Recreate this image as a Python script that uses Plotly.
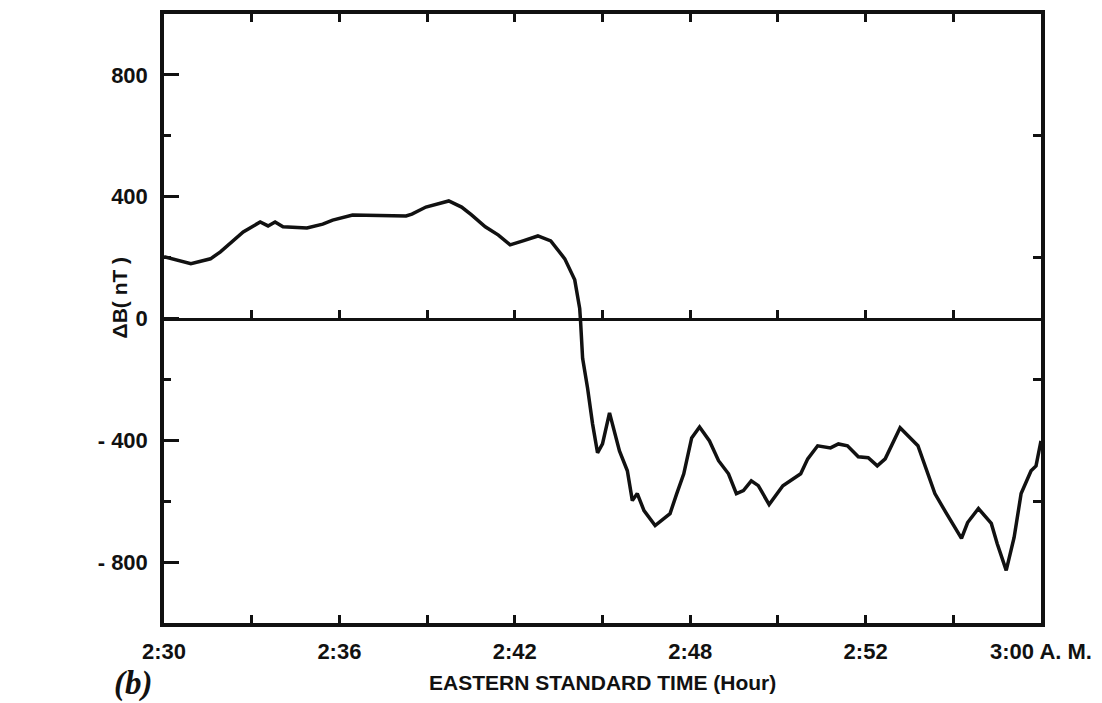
import plotly.graph_objects as go

# minutes after 2:30 EST
minutes = [0.00, 0.92, 1.59, 1.93, 2.71, 3.29, 3.56, 3.80, 4.07, 4.89, 5.43, 5.77,
           6.45, 8.28, 8.48, 8.96, 9.74, 10.18, 10.52, 10.99, 11.44, 11.84, 12.28,
           12.79, 13.23, 13.71, 14.05, 14.22, 14.25, 14.32, 14.49, 14.66, 14.83,
           15.00, 15.24, 15.58, 15.85, 16.02, 16.19, 16.42, 16.80, 17.31, 17.54,
           17.78, 18.05, 18.32, 18.66, 18.97, 19.31, 19.58, 19.82, 20.09, 20.33,
           20.70, 21.17, 21.78, 22.02, 22.36, 22.80, 23.07, 23.38, 23.75, 24.09,
           24.40, 24.67, 25.18, 25.79, 26.37, 26.77, 27.28, 27.49, 27.86, 28.30,
           28.50, 28.81, 29.08, 29.32, 29.66, 29.83, 30.00]
delta_b = [203, 180, 196, 219, 284, 317, 304, 317, 301, 297, 310, 323,
           340, 337, 343, 366, 386, 366, 340, 301, 274, 242, 255,
           271, 255, 196, 127, 33, -10, -131, -229, -346, -441,
           -412, -310, -435, -500, -598, -575, -631, -680, -641, -575,
           -510, -392, -356, -402, -467, -510, -575, -565, -533, -549,
           -611, -549, -510, -461, -418, -425, -412, -418, -454, -457,
           -484, -461, -359, -418, -575, -641, -722, -670, -624, -673,
           -739, -827, -719, -575, -500, -484, -402]

x_ticks = [0, 3, 6, 9, 12, 15, 18, 21, 24, 27, 30]
x_labels = ["2:30", "", "2:36", "", "2:42", "", "2:48", "", "2:52", "", "3:00 A. M."]
y_ticks = [-800, -400, 0, 400, 800]
y_labels = ["- 800", "- 400", "0", "400", "800"]
y_minor = [-600, -200, 200, 600]

INK = "#111111"
FONT = dict(family="Liberation Sans, Arial, sans-serif", size=22, color=INK, weight="bold")

fig = go.Figure()
fig.add_trace(go.Scatter(
    x=minutes, y=delta_b, mode="lines",
    line=dict(color=INK, width=3.5),
    showlegend=False, hoverinfo="x+y"
))
# same series on the overlay axes so the zero line and right ticks get drawn
fig.add_trace(go.Scatter(
    x=minutes, y=delta_b, mode="lines", xaxis="x2", yaxis="y2",
    line=dict(color=INK, width=0), opacity=0,
    showlegend=False, hoverinfo="skip"
))

fig.update_layout(
    width=1102, height=703,
    margin=dict(l=164, r=55, t=10, b=80),
    plot_bgcolor="white", paper_bgcolor="white",
    font=FONT,
    xaxis=dict(
        range=[0, 30], tickmode="array", tickvals=x_ticks, ticktext=x_labels,
        ticks="inside", ticklen=8, tickwidth=2.5, tickcolor=INK,
        showline=True, linewidth=3.5, linecolor=INK, mirror="ticks",
        showgrid=False, zeroline=False, tickfont=FONT, ticklabelstandoff=6,
        ticklabeloverflow="allow",
    ),
    xaxis2=dict(
        range=[0, 30], overlaying="x", anchor="free", position=0.5,
        tickmode="array", tickvals=x_ticks, showticklabels=False,
        ticks="inside", ticklen=8, tickwidth=2.5, tickcolor=INK,
        showline=True, linewidth=3, linecolor=INK,
        showgrid=False, zeroline=False,
    ),
    yaxis=dict(
        range=[-1000, 1000], tickmode="array", tickvals=y_ticks, ticktext=y_labels,
        ticks="inside", ticklen=15, tickwidth=2.5, tickcolor=INK,
        minor=dict(tickmode="array", tickvals=y_minor, ticks="inside", ticklen=7,
                   tickwidth=2.5, tickcolor=INK, showgrid=False),
        showline=True, linewidth=3.5, linecolor=INK, mirror=True,
        showgrid=False, zeroline=False, tickfont=FONT, ticklabelstandoff=8,
    ),
    yaxis2=dict(
        range=[-1000, 1000], overlaying="y", side="right",
        tickmode="array", tickvals=y_minor, showticklabels=False,
        ticks="inside", ticklen=8, tickwidth=2.5, tickcolor=INK,
        showline=False, showgrid=False, zeroline=False,
    ),
    annotations=[
        dict(text="EASTERN STANDARD TIME (Hour)", xref="paper", yref="paper",
             x=0.5, y=-0.098, xanchor="center", yanchor="middle",
             showarrow=False, font=dict(FONT, size=21)),
        dict(text="ΔB( nT )", xref="paper", yref="paper", textangle=-90,
             x=-0.051, y=0.535, xanchor="center", yanchor="middle",
             showarrow=False, font=dict(FONT, size=21)),
        dict(text="(b)", xref="paper", yref="paper", x=-0.035, y=-0.1,
             xanchor="center", yanchor="middle", showarrow=False,
             font=dict(family="Liberation Serif, Times New Roman, serif", size=33,
                       color=INK, style="italic", weight="bold")),
    ],
)

fig.write_html("out.html", config={"displayModeBar": False},
               post_script="document.body.style.margin='0';")
